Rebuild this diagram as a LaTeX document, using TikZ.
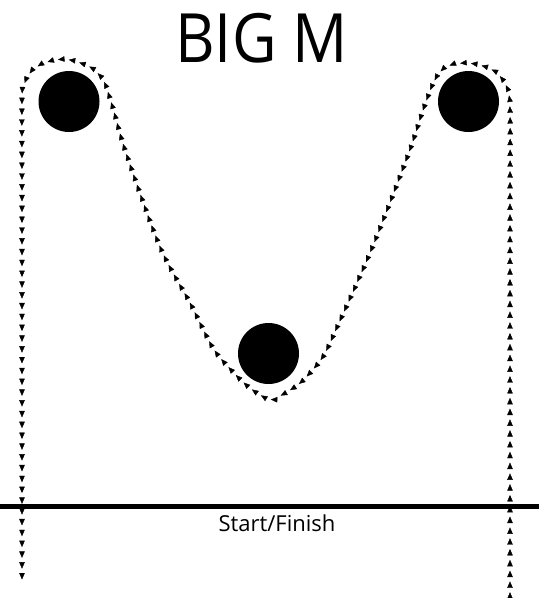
\documentclass[tikz,border=0pt]{standalone}
\usepackage{fontspec}
\setmainfont{Open Sans}
\usetikzlibrary{decorations.markings,arrows.meta}
\tikzset{
  ball/.style={circle,fill=black,draw=none,minimum size=61pt,inner sep=0pt},
  trackpath/.style={
    postaction={decorate},
    decoration={markings,
      mark=between positions 0.003 and 1 step 10.8pt with {\arrow{Triangle[length=6.5pt,width=5.5pt]}}}
  },
  startline/.style={line width=4.5pt},
  titletext/.style={font=\fontsize{68}{70}\selectfont,inner sep=0pt,anchor=base},
  labeltext/.style={font=\fontsize{22}{24}\selectfont,inner sep=0pt,anchor=base}
}
\begin{document}
\begin{tikzpicture}[x=1pt,y=-1pt]
\useasboundingbox (0,0) rectangle (539,598);
\node[titletext,xscale=0.9] (title) at (261.5,62) {BIG M};
\node[ball] (ballL) at (69,101.5) {};
\node[ball] (ballR) at (468.5,101.5) {};
\node[ball] (ballM) at (268.5,353.5) {};
\coordinate (lineL) at (0,506.5);
\coordinate (lineR) at (539,506.5);
\draw[startline] (lineL) -- (lineR);
\node[labeltext] (sf) at (277,531) {Start/Finish};
\path[trackpath] plot[smooth,tension=0.5] coordinates {
  (510,598) (510,400) (510,200) (510,110) (507,88) (497,73) (483,66) (467,63) (451,65) (440,72) (432,86)
  (422,113) (408,155) (372,248) (338,325) (322,358) (300,383) (278,397) (268,399) (250,388) (233,372)
  (213,348) (190,303) (160,247) (126,153) (112,105) (103,80) (90,67) (70,60) (55,60) (40,65) (30,73) (24,85) (22,100)
  (22,200) (22,400) (22,582)};
\end{tikzpicture}
\end{document}
